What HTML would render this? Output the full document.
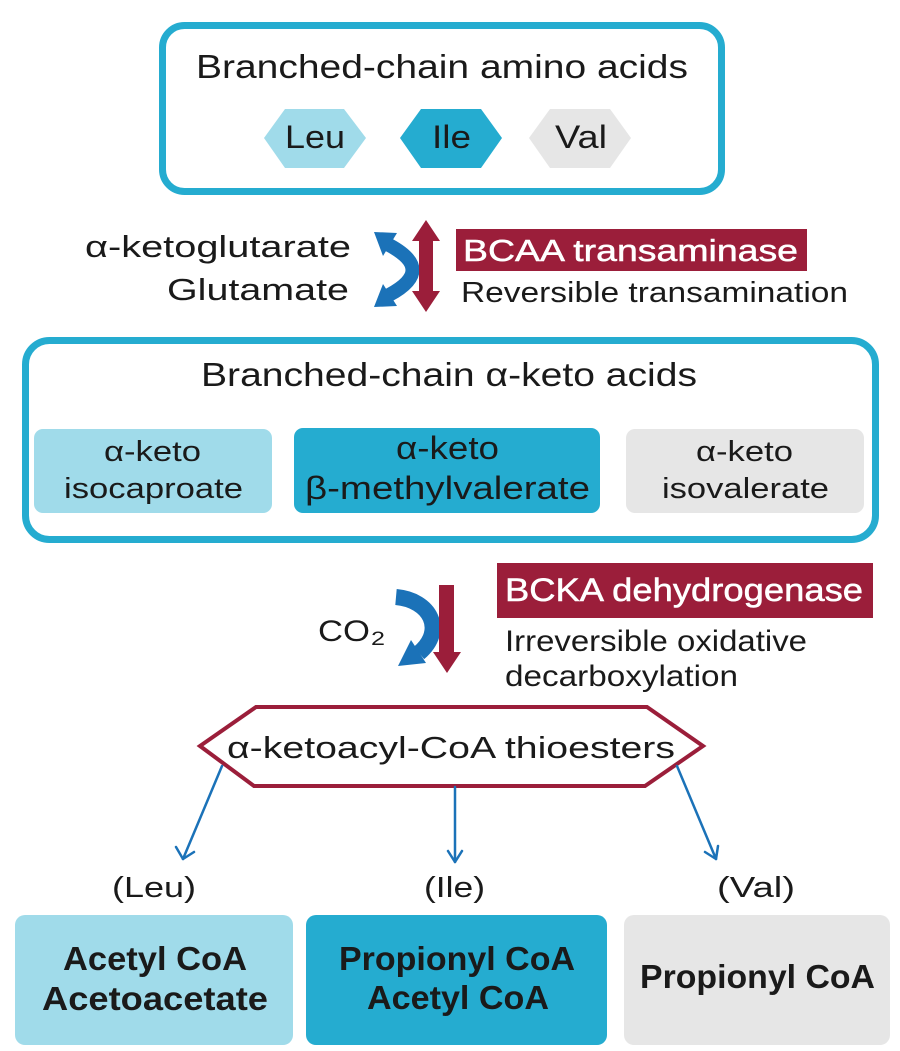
<!DOCTYPE html>
<html>
<head>
<meta charset="utf-8">
<style>
  html, body { margin:0; padding:0; background:#ffffff; }
  svg { display:block; }
  text { font-family: "Liberation Sans", "DejaVu Sans", sans-serif; fill:#1a1a1a; }
</style>
</head>
<body>
<svg width="900" height="1051" viewBox="0 0 900 1051" xmlns="http://www.w3.org/2000/svg">
  <rect x="0" y="0" width="900" height="1051" fill="#ffffff"/>

  <!-- Top box: Branched-chain amino acids -->
  <rect x="162.5" y="25.5" width="559" height="166" rx="22" ry="22" fill="#ffffff" stroke="#25acd0" stroke-width="7"/>
  <text x="196" y="78" font-size="33" textLength="492" lengthAdjust="spacingAndGlyphs">Branched-chain amino acids</text>

  <polygon points="264,138 285,109 344,109 366,138 344,168 285,168" fill="#a0dbea"/>
  <polygon points="400,138 421,109 481,109 502,138 481,168 421,168" fill="#25acd0"/>
  <polygon points="529,138 550,109 610,109 631,138 610,168 550,168" fill="#e6e6e6"/>
  <text x="285" y="148" font-size="32" textLength="60" lengthAdjust="spacingAndGlyphs">Leu</text>
  <text x="432" y="148" font-size="32" textLength="39" lengthAdjust="spacingAndGlyphs">Ile</text>
  <text x="555" y="148" font-size="32" textLength="52" lengthAdjust="spacingAndGlyphs">Val</text>

  <!-- Transamination -->
  <text x="85" y="257" font-size="31" textLength="266" lengthAdjust="spacingAndGlyphs">α-ketoglutarate</text>
  <text x="167" y="300" font-size="31" textLength="182" lengthAdjust="spacingAndGlyphs">Glutamate</text>

  <!-- blue curved arrow (transaminase) -->
  <path d="M 389 245 Q 436 270 389 295" fill="none" stroke="#1b72b8" stroke-width="14"/>
  <polygon points="374,232 397,233 383,256" fill="#1b72b8"/>
  <polygon points="374,307 397,306 383,284" fill="#1b72b8"/>

  <!-- red double arrow -->
  <polygon points="426,220 440,241 433,241 433,291 440,291 426,312 412,291 419,291 419,241 412,241" fill="#9b1e3a"/>

  <rect x="456" y="229" width="351" height="42" fill="#9b1e3a"/>
  <text x="463" y="261" font-size="31" textLength="335" lengthAdjust="spacingAndGlyphs" style="fill:#ffffff" stroke="#ffffff" stroke-width="0.5">BCAA transaminase</text>
  <text x="461" y="302" font-size="29" textLength="387" lengthAdjust="spacingAndGlyphs">Reversible transamination</text>

  <!-- Middle box: Branched-chain alpha-keto acids -->
  <rect x="25.5" y="340.5" width="850" height="199" rx="24" ry="24" fill="#ffffff" stroke="#25acd0" stroke-width="7"/>
  <text x="201" y="386" font-size="33" textLength="496" lengthAdjust="spacingAndGlyphs">Branched-chain α-keto acids</text>

  <rect x="34" y="429" width="238" height="84" rx="9" ry="9" fill="#a0dbea"/>
  <rect x="294" y="428" width="306" height="85" rx="9" ry="9" fill="#25acd0"/>
  <rect x="626" y="429" width="238" height="84" rx="9" ry="9" fill="#e6e6e6"/>

  <text x="104" y="461" font-size="29" textLength="97" lengthAdjust="spacingAndGlyphs">α-keto</text>
  <text x="64" y="498" font-size="29" textLength="179" lengthAdjust="spacingAndGlyphs">isocaproate</text>
  <text x="396" y="459" font-size="32" textLength="103" lengthAdjust="spacingAndGlyphs">α-keto</text>
  <text x="305" y="499" font-size="32" textLength="285" lengthAdjust="spacingAndGlyphs">β-methylvalerate</text>
  <text x="696" y="461" font-size="29" textLength="97" lengthAdjust="spacingAndGlyphs">α-keto</text>
  <text x="662" y="498" font-size="29" textLength="167" lengthAdjust="spacingAndGlyphs">isovalerate</text>

  <!-- Decarboxylation -->
  <text x="318" y="641" font-size="30" textLength="52" lengthAdjust="spacingAndGlyphs">CO</text>
  <text x="371" y="645" font-size="19" textLength="14" lengthAdjust="spacingAndGlyphs">2</text>

  <!-- blue curved arrow (CO2) -->
  <path d="M 396 597 C 430 600, 446 630, 419 653" fill="none" stroke="#1b72b8" stroke-width="16"/>
  <polygon points="398,666 426,663 411,640" fill="#1b72b8"/>

  <!-- red down arrow -->
  <polygon points="439,585 454,585 454,652 461,652 447,673 433,652 439,652" fill="#9b1e3a"/>

  <rect x="497" y="563" width="376" height="55" fill="#9b1e3a"/>
  <text x="505" y="601" font-size="32" textLength="358" lengthAdjust="spacingAndGlyphs" style="fill:#ffffff" stroke="#ffffff" stroke-width="0.5">BCKA dehydrogenase</text>
  <text x="505" y="651" font-size="30" textLength="302" lengthAdjust="spacingAndGlyphs">Irreversible oxidative</text>
  <text x="505" y="686" font-size="30" textLength="233" lengthAdjust="spacingAndGlyphs">decarboxylation</text>

  <!-- Thioester hexagon -->
  <polygon points="200,746 256,707 647,707 703,746 645,786 254,786" fill="#ffffff" stroke="#9b1e3a" stroke-width="4" stroke-linejoin="miter"/>
  <text x="227" y="758" font-size="31" textLength="448" lengthAdjust="spacingAndGlyphs">α-ketoacyl-CoA thioesters</text>

  <!-- connectors -->
  <g stroke="#1b72b8" stroke-width="2.5" fill="none" stroke-linecap="round" stroke-linejoin="round">
    <line x1="222" y1="766" x2="183" y2="859"/>
    <polyline points="176,847 183,859 194,852"/>
    <line x1="455" y1="787" x2="455" y2="862"/>
    <polyline points="448,851 455,862 462,851"/>
    <line x1="677" y1="766" x2="716" y2="859"/>
    <polyline points="705,852 716,859 718,846"/>
  </g>

  <!-- amino-acid labels -->
  <text x="112" y="897" font-size="29" textLength="84" lengthAdjust="spacingAndGlyphs">(Leu)</text>
  <text x="424" y="897" font-size="29" textLength="61" lengthAdjust="spacingAndGlyphs">(Ile)</text>
  <text x="717" y="897" font-size="29" textLength="78" lengthAdjust="spacingAndGlyphs">(Val)</text>

  <!-- Bottom boxes -->
  <rect x="15" y="915" width="278" height="130" rx="10" ry="10" fill="#a0dbea"/>
  <rect x="306" y="915" width="301" height="130" rx="10" ry="10" fill="#25acd0"/>
  <rect x="624" y="915" width="266" height="130" rx="10" ry="10" fill="#e6e6e6"/>

  <g font-weight="bold">
    <text x="63" y="970" font-size="33" textLength="184" lengthAdjust="spacingAndGlyphs">Acetyl CoA</text>
    <text x="42" y="1010" font-size="33" textLength="226" lengthAdjust="spacingAndGlyphs">Acetoacetate</text>
    <text x="339" y="970" font-size="33" textLength="236" lengthAdjust="spacingAndGlyphs">Propionyl CoA</text>
    <text x="367" y="1009" font-size="33" textLength="182" lengthAdjust="spacingAndGlyphs">Acetyl CoA</text>
    <text x="640" y="988" font-size="33" textLength="235" lengthAdjust="spacingAndGlyphs">Propionyl CoA</text>
  </g>
</svg>
</body>
</html>
